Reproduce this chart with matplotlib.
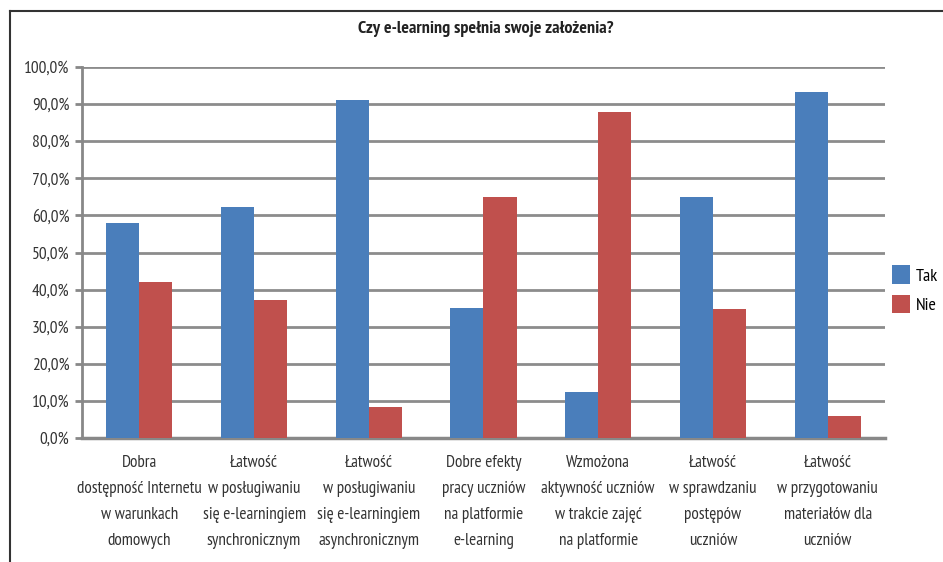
import matplotlib.pyplot as plt
import numpy as np
from matplotlib.lines import Line2D

plt.rcParams['font.family'] = ['PT Sans Narrow', 'DejaVu Sans']

categories = [
    "Dobra\ndostępność Internetu\nw warunkach\ndomowych",
    "Łatwość\nw posługiwaniu\nsię e-learningiem\nsynchronicznym",
    "Łatwość\nw posługiwaniu\nsię e-learningiem\nasynchronicznym",
    "Dobre efekty\npracy uczniów\nna platformie\ne-learning",
    "Wzmożona\naktywność uczniów\nw trakcie zajęć\nna platformie",
    "Łatwość\nw sprawdzaniu\npostępów\nuczniów",
    "Łatwość\nw przygotowaniu\nmateriałów dla\nuczniów",
]
tak = [57.9, 62.3, 91.1, 35.0, 12.3, 65.0, 93.3]
nie = [42.0, 37.1, 8.3, 65.0, 88.0, 34.9, 6.0]
yticks = [0, 10, 20, 30, 40, 50, 60, 70, 80, 90, 100]


def main():
    fig = plt.figure(figsize=(9.43, 5.62), dpi=100)
    ax = fig.add_axes([82 / 943, 1 - 438 / 562, (885 - 82) / 943, (438 - 67) / 562])

    x = np.arange(len(categories))
    w = 0.288
    ax.bar(x - w / 2, tak, width=w, color='#4a7ebb', label='Tak', zorder=3)
    ax.bar(x + w / 2, nie, width=w, color='#c0504d', label='Nie', zorder=3)

    ax.set_xlim(-0.5, len(categories) - 0.5)
    ax.set_ylim(0, 100)
    ax.set_yticks(yticks)
    ax.set_yticklabels([f"{v},0%" for v in yticks], fontsize=12.5, color='#333333')
    ax.set_xticks(x)
    ax.set_xticklabels(categories, fontsize=12.3, color='#333333', linespacing=1.85)
    ax.tick_params(axis='x', length=0, pad=12)
    ax.tick_params(axis='y', length=5, width=2, color='#888888', pad=4)

    ax.grid(axis='y', color='#8c8c8c', linewidth=2, zorder=0)
    for s in ['top', 'right']:
        ax.spines[s].set_visible(False)
    ax.spines['left'].set_color('#888888')
    ax.spines['left'].set_linewidth(2)
    ax.spines['bottom'].set_color('#888888')
    ax.spines['bottom'].set_linewidth(2.5)

    fig.text(486 / 943, 1 - 29 / 562, "Czy e-learning spełnia swoje założenia?",
             ha='center', va='center', fontsize=13, fontweight='bold', color='#222222')

    ax.legend(loc='center left', bbox_to_anchor=(1.0, 0.40), frameon=False,
              fontsize=13, handlelength=1.0, handleheight=1.2, handletextpad=0.3,
              labelspacing=0.55, borderaxespad=0)

    # outer frame (top and left edges visible)
    fig.add_artist(Line2D([10 / 943, 10 / 943], [0, 1 - 11 / 562], transform=fig.transFigure,
                          color='#333333', linewidth=1.5))
    fig.add_artist(Line2D([10 / 943, 1], [1 - 11 / 562, 1 - 11 / 562], transform=fig.transFigure,
                          color='#333333', linewidth=1.5))

    plt.savefig('out.png', dpi=100)


if __name__ == '__main__':
    main()
